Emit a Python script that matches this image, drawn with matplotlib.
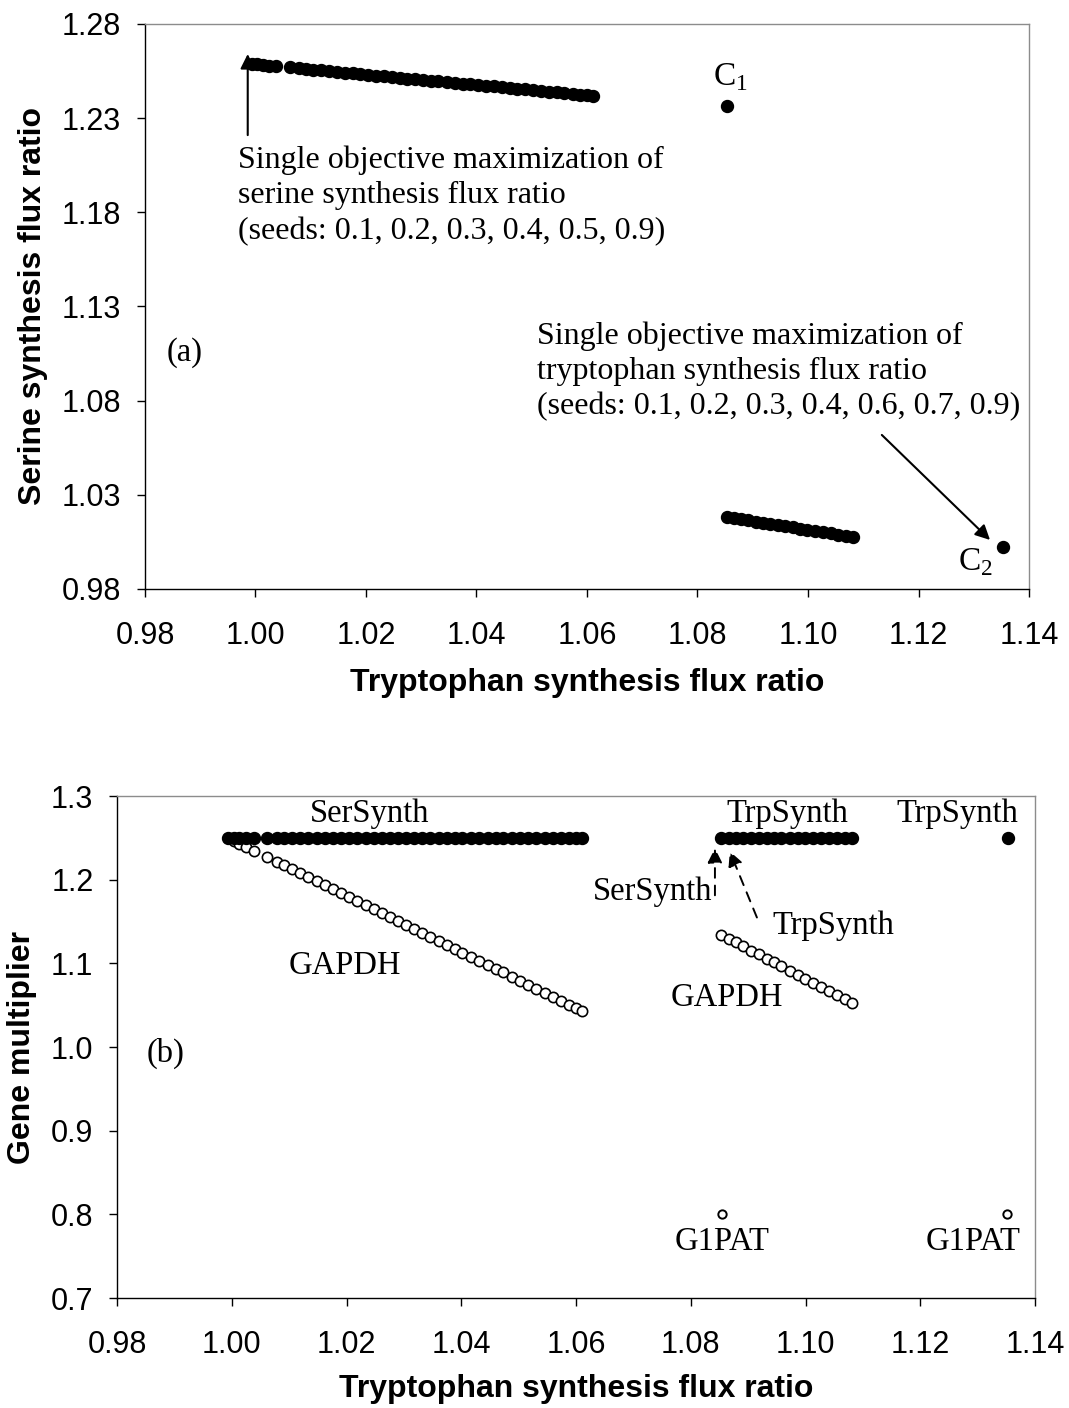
import matplotlib
matplotlib.use('Agg')
import matplotlib.pyplot as plt
from matplotlib.ticker import FormatStrFormatter, MultipleLocator

plt.rcParams['font.family'] = 'Liberation Sans'
plt.rcParams['mathtext.fontset'] = 'custom'
plt.rcParams['mathtext.rm'] = 'Liberation Serif'

# Pareto points, first group (serine-favoured side)
trp_a = [0.9993, 1.0003, 1.0013, 1.0025, 1.0038,
         1.0062, 1.0078, 1.0091, 1.0105, 1.0119, 1.0133, 1.0148, 1.0162,
         1.0177, 1.0190, 1.0204, 1.0219, 1.0233, 1.0248, 1.0262, 1.0275,
         1.0289, 1.0304, 1.0318, 1.0331, 1.0346, 1.0361, 1.0375, 1.0389,
         1.0402, 1.0417, 1.0431, 1.0446, 1.0460, 1.0473, 1.0488, 1.0502,
         1.0517, 1.0531, 1.0545, 1.0559, 1.0574, 1.0588, 1.0600, 1.0611]
ser_a = [1.2588, 1.2585, 1.2583, 1.2579, 1.2576,
         1.2569, 1.2565, 1.2561, 1.2557, 1.2553, 1.2550, 1.2545, 1.2542,
         1.2537, 1.2534, 1.2530, 1.2526, 1.2522, 1.2518, 1.2514, 1.2510,
         1.2507, 1.2502, 1.2499, 1.2495, 1.2491, 1.2487, 1.2483, 1.2479,
         1.2475, 1.2471, 1.2468, 1.2463, 1.2460, 1.2456, 1.2452, 1.2448,
         1.2444, 1.2440, 1.2436, 1.2432, 1.2428, 1.2424, 1.2421, 1.2418]
gapdh_a = [1.2500, 1.2466, 1.2433, 1.2393, 1.2349,
           1.2269, 1.2215, 1.2172, 1.2125, 1.2078, 1.2031, 1.1981, 1.1934,
           1.1884, 1.1840, 1.1793, 1.1743, 1.1696, 1.1646, 1.1599, 1.1555,
           1.1508, 1.1458, 1.1411, 1.1368, 1.1317, 1.1267, 1.1220, 1.1173,
           1.1130, 1.1080, 1.1033, 1.0982, 1.0936, 1.0892, 1.0842, 1.0795,
           1.0745, 1.0698, 1.0651, 1.0604, 1.0554, 1.0507, 1.0467, 1.0430]
synth_a = [1.25] * len(trp_a)

# Pareto points, second group (tryptophan-favoured side)
trp_b = [1.0853, 1.0866, 1.0878, 1.0891, 1.0905, 1.0918, 1.0932, 1.0945,
         1.0958, 1.0972, 1.0986, 1.0999, 1.1013, 1.1027, 1.1041, 1.1054,
         1.1068, 1.1081]
ser_b = [1.0182, 1.0176, 1.0170, 1.0164, 1.0158, 1.0152, 1.0145, 1.0139,
         1.0133, 1.0127, 1.0120, 1.0114, 1.0108, 1.0101, 1.0095, 1.0089,
         1.0082, 1.0076]
gapdh_b = [1.1339, 1.1293, 1.1250, 1.1203, 1.1153, 1.1107, 1.1057, 1.1011,
           1.0964, 1.0914, 1.0864, 1.0818, 1.0768, 1.0718, 1.0668, 1.0621,
           1.0571, 1.0525]
synth_b = [1.25] * len(trp_b)

# single-objective optima
c_trp = [1.0853, 1.1353]
c_ser = [1.2365, 1.0023]
trpsynth_c2 = [1.25]
g1pat_trp = [1.0855, 1.1351]
g1pat = [0.80, 0.80]

ser_ticks = [0.98, 1.03, 1.08, 1.13, 1.18, 1.23, 1.28]

serif = 'Liberation Serif'
fs_note = 23.5
fs_long = 23
fs_label = 23


def style_axes(ax):
    for side in ['top', 'right']:
        ax.spines[side].set_color('#8c8c8c')
    for side in ['left', 'bottom']:
        ax.spines[side].set_color('black')
    for sp in ax.spines.values():
        sp.set_linewidth(1.0)
    ax.tick_params(direction='out', length=6, width=1.0, labelsize=22,
                   top=False, right=False)
    ax.tick_params(axis='x', pad=17)
    ax.tick_params(axis='y', pad=11)
    ax.set_xlim(0.98, 1.14)
    ax.xaxis.set_major_locator(MultipleLocator(0.02))
    ax.xaxis.set_major_formatter(FormatStrFormatter('%.2f'))


fig = plt.figure(figsize=(10.69, 14.08), dpi=100)

# (a) objective space
ax1 = fig.add_axes([0.1356, 0.5817, 0.8270, 0.4013])
style_axes(ax1)
ax1.set_ylim(0.98, 1.28)
ax1.set_yticks(ser_ticks)
ax1.yaxis.set_major_formatter(FormatStrFormatter('%.2f'))
ax1.plot(trp_a, ser_a, 'o', color='black', ms=8.6, ls='none')
ax1.plot(trp_b, ser_b, 'o', color='black', ms=8.6, ls='none')
ax1.plot(c_trp, c_ser, 'o', color='black', ms=8.6, ls='none')
ax1.set_xlabel('Tryptophan synthesis flux ratio', fontsize=fs_label,
               fontweight='bold', labelpad=12)
ax1.set_ylabel('Serine synthesis flux ratio', fontsize=fs_label,
               fontweight='bold', labelpad=10)

ax1.annotate('', xy=(0.9986, 1.2655), xytext=(0.9986, 1.2195),
             arrowprops=dict(arrowstyle='-|>', color='black', lw=1.5,
                             mutation_scale=22))
ax1.text(0.99683, 1.2152,
         'Single objective maximization of\nserine synthesis flux ratio\n'
         '(seeds: 0.1, 0.2, 0.3, 0.4, 0.5, 0.9)',
         family=serif, fontsize=fs_long, ha='left', va='top', linespacing=1.27)
ax1.text(1.05095, 1.1222,
         'Single objective maximization of\ntryptophan synthesis flux ratio\n'
         '(seeds: 0.1, 0.2, 0.3, 0.4, 0.6, 0.7, 0.9)',
         family=serif, fontsize=fs_long, ha='left', va='top', linespacing=1.27)
ax1.annotate('', xy=(1.1333, 1.0050), xytext=(1.1130, 1.0628),
             arrowprops=dict(arrowstyle='-|>', color='black', lw=1.5,
                             mutation_scale=22))
ax1.text(1.0859, 1.2519, r'C$_{\mathrm{1}}$', family=serif, fontsize=24,
         ha='center', va='center')
ax1.text(1.1304, 0.9944, r'C$_{\mathrm{2}}$', family=serif, fontsize=24,
         ha='center', va='center')
ax1.text(0.98724, 1.1053, '(a)', family=serif, fontsize=fs_note,
         ha='center', va='center')

# (b) gene multipliers along the front
ax2 = fig.add_axes([0.1095, 0.0781, 0.8588, 0.3565])
style_axes(ax2)
ax2.set_ylim(0.7, 1.3)
ax2.yaxis.set_major_locator(MultipleLocator(0.1))
ax2.yaxis.set_major_formatter(FormatStrFormatter('%.1f'))
open_kw = dict(marker='o', mfc='white', mec='black', mew=1.2, ms=7.4,
               ls='none')
ax2.plot(trp_a, gapdh_a, **open_kw)
ax2.plot(trp_b, gapdh_b, **open_kw)
ax2.plot(g1pat_trp, g1pat, marker='o', mfc='white', mec='black', mew=1.4,
         ms=6.0, ls='none')
ax2.plot(trp_a, synth_a, 'o', color='black', ms=8.6, ls='none')
ax2.plot(trp_b, synth_b, 'o', color='black', ms=8.6, ls='none')
ax2.plot(c_trp[1:], trpsynth_c2, 'o', color='black', ms=8.6, ls='none')
ax2.set_xlabel('Tryptophan synthesis flux ratio', fontsize=fs_label,
               fontweight='bold', labelpad=10)
ax2.set_ylabel('Gene multiplier', fontsize=fs_label, fontweight='bold',
               labelpad=10)

ax2.text(1.0241, 1.2790, 'SerSynth', family=serif, fontsize=fs_note,
         ha='center', va='center')
ax2.text(1.0968, 1.2785, 'TrpSynth', family=serif, fontsize=fs_note,
         ha='center', va='center')
ax2.text(1.1264, 1.2785, 'TrpSynth', family=serif, fontsize=fs_note,
         ha='center', va='center')
ax2.text(1.0837, 1.1860, 'SerSynth', family=serif, fontsize=fs_note,
         ha='right', va='center')
ax2.text(1.0942, 1.1446, 'TrpSynth', family=serif, fontsize=fs_note,
         ha='left', va='center')
dash_arrow = dict(arrowstyle='-|>', color='black', lw=1.4,
                  ls=(0, (5, 4)), mutation_scale=22)
ax2.annotate('', xy=(1.0842, 1.2410), xytext=(1.0842, 1.1781),
             arrowprops=dash_arrow)
ax2.annotate('', xy=(1.0866, 1.2370), xytext=(1.0917, 1.1518),
             arrowprops=dash_arrow)
ax2.text(1.0197, 1.0968, 'GAPDH', family=serif, fontsize=fs_note,
         ha='center', va='center')
ax2.text(1.0863, 1.0586, 'GAPDH', family=serif, fontsize=fs_note,
         ha='center', va='center')
ax2.text(1.0855, 0.7669, 'G1PAT', family=serif, fontsize=fs_note,
         ha='center', va='center')
ax2.text(1.1292, 0.7669, 'G1PAT', family=serif, fontsize=fs_note,
         ha='center', va='center')
ax2.text(0.9884, 0.9928, '(b)', family=serif, fontsize=fs_note,
         ha='center', va='center')

fig.savefig('out.png', dpi=100)
plt.close(fig)
